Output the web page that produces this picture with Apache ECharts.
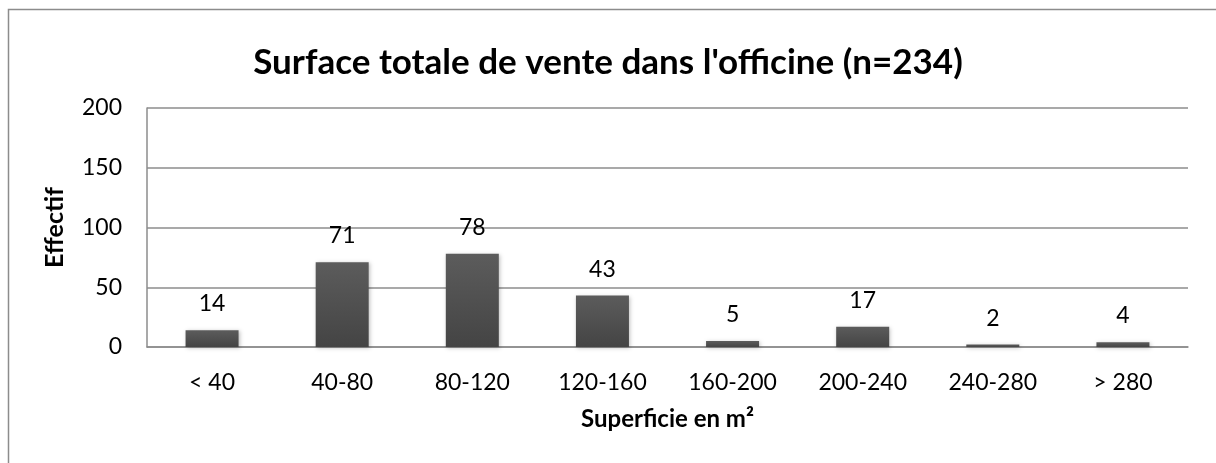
<!DOCTYPE html>
<html>
<head>
<meta charset="utf-8">
<script src="https://cdn.jsdelivr.net/npm/echarts@6/dist/echarts.min.js"></script>
<style>
  html, body { margin: 0; padding: 0; background: #fff; }
  #box { width: 1216px; height: 463px; }
</style>
</head>
<body>
<div id="box"></div>
<script>
// données
var categories = ["< 40", "40-80", "80-120", "120-160", "160-200", "200-240", "240-280", "> 280"];
var effectifs = [14, 71, 78, 43, 5, 17, 2, 4];
var yMin = 0, yMax = 200, yStep = 50;

var font = "Lato, 'Open Sans', sans-serif";
var myChart = echarts.init(document.getElementById("box"));

var option = {
  animation: false,
  textStyle: { fontFamily: font },
  title: {
    text: "Surface totale de vente dans l'officine (n=234)",
    left: "center",
    top: 40,
    textStyle: { fontFamily: font, fontSize: 35, fontWeight: "bold", color: "#000" }
  },
  // cadre du graphique
  graphic: [{
    type: "rect",
    shape: { x: 8.5, y: 9.5, width: 1220, height: 470 },
    style: { fill: "none", stroke: "#8c8c8c", lineWidth: 1.5 },
    silent: true
  }],
  grid: { left: 147, right: 28, top: 108, bottom: 116 },
  xAxis: {
    type: "category",
    data: categories,
    name: "Superficie en m²",
    nameLocation: "middle",
    nameGap: 60,
    nameTextStyle: { fontFamily: font, fontSize: 24, fontWeight: "bold", color: "#000" },
    axisLine: { lineStyle: { color: "#8c8c8c", width: 1.5 } },
    axisTick: { show: false },
    axisLabel: { fontFamily: font, fontSize: 23, color: "#000", margin: 24 }
  },
  yAxis: {
    type: "value",
    min: yMin,
    max: yMax,
    interval: yStep,
    name: "Effectif",
    nameLocation: "middle",
    nameGap: 80,
    nameTextStyle: { fontFamily: font, fontSize: 25, fontWeight: "bold", color: "#000" },
    axisLine: { show: true, lineStyle: { color: "#8c8c8c", width: 1.5 } },
    axisTick: { show: false },
    splitLine: { lineStyle: { color: "#8c8c8c", width: 1.5 } },
    axisLabel: { fontFamily: font, fontSize: 23, color: "#000", margin: 25 }
  },
  series: [{
    type: "bar",
    data: effectifs,
    barWidth: 53,
    itemStyle: {
      color: new echarts.graphic.LinearGradient(0, 0, 0, 1, [
        { offset: 0, color: "#5c5c5c" },
        { offset: 1, color: "#444444" }
      ]),
      shadowColor: "rgba(0,0,0,0.25)",
      shadowBlur: 4,
      shadowOffsetX: 1,
      shadowOffsetY: 1
    },
    label: {
      show: true,
      position: "top",
      distance: 15,
      fontFamily: font,
      fontSize: 23,
      color: "#000"
    }
  }]
};
myChart.setOption(option);
</script>
</body>
</html>
